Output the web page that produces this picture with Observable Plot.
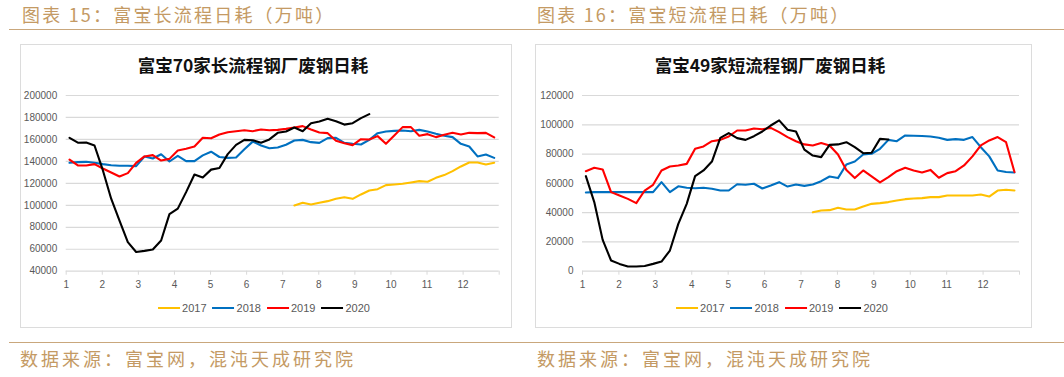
<!DOCTYPE html>
<html><head><meta charset="utf-8">
<script src="https://cdn.jsdelivr.net/npm/d3@7"></script>
<script src="https://cdn.jsdelivr.net/npm/@observablehq/plot@0.6"></script>
<style>
html,body{margin:0;padding:0;background:#fff}
body{width:1064px;height:377px;position:relative;overflow:hidden;font-family:"Noto Sans CJK SC",sans-serif}
.hdr{position:absolute;top:2px;font-size:18px;line-height:24px;color:#c49a64;letter-spacing:2.2px;white-space:nowrap}
.src{position:absolute;top:346px;font-size:18px;line-height:24px;color:#c49a64;letter-spacing:3px;white-space:nowrap}
.hline{position:absolute;left:9px;right:0;height:0;border-top:1.5px solid #c9a77c}
.box{position:absolute;top:44px;height:282px;border:1px solid #dcdcdc;background:#fff}
.ttl{position:absolute;top:53px;font-size:17.5px;font-weight:700;line-height:24px;color:#111;white-space:nowrap;transform:translateX(-50%)}
.plot{position:absolute;top:80px}
.leg{position:absolute;top:302px;display:flex;align-items:center;font-family:"Liberation Sans",sans-serif;font-size:11px;color:#595959;transform:translateX(-50%);white-space:nowrap}
.leg .it{display:flex;align-items:center;margin-right:6px}
.leg .sw{display:inline-block;width:22px;height:2px;margin-right:2px}
</style></head>
<body>
<div class="hdr" style="left:22px">图表 15：富宝长流程日耗（万吨）</div>
<div class="hdr" style="left:537px">图表 16：富宝短流程日耗（万吨）</div>
<div class="hline" style="top:29px"></div>
<div class="box" style="left:20px;width:490px"></div>
<div class="box" style="left:535px;width:495px"></div>
<div class="ttl" style="left:253px">富宝70家长流程钢厂废钢日耗</div>
<div class="ttl" style="left:770px">富宝49家短流程钢厂废钢日耗</div>
<div id="p1" class="plot" style="left:20px"></div>
<div id="p2" class="plot" style="left:535px"></div>
<div id="l1" class="leg" style="left:267px"></div>
<div id="l2" class="leg" style="left:785px"></div>
<div class="hline" style="top:342px"></div>
<div class="src" style="left:20px">数据来源：富宝网，混沌天成研究院</div>
<div class="src" style="left:537px">数据来源：富宝网，混沌天成研究院</div>
<script>
// ---- data (weekly values; index = week of year, 0-based) ----
const years = ["2017", "2018", "2019", "2020"];
const colors = ["#FFC000", "#0070C0", "#FF0000", "#000000"];
const monthTicks = [1,2,3,4,5,6,7,8,9,10,11,12,13];

// Panel 1: 富宝70家长流程钢厂废钢日耗
const long2017Start = 27;
const long2017 = [99800,102300,100800,102300,103800,105900,107400,105900,109900,113500,114700,118400,119000,119600,120800,122000,121400,125000,127500,131100,135400,139000,139000,137200,138700];
const long2018 = [138700,139300,139600,138700,137500,136500,136000,136000,135700,144500,142600,146500,139900,145000,140200,140200,145500,148800,144000,143200,143500,151000,158000,154500,152000,152700,155100,159000,159600,157500,156900,161200,161500,156900,156000,155400,159600,165700,167200,167800,168100,167500,168700,167200,165100,163300,162100,156000,153600,144500,146300,143200];
const long2019 = [141700,136300,136300,137500,133500,129900,126300,129300,138700,144500,145700,140800,142300,150000,151500,153500,161500,161000,164500,166600,167500,168400,167500,169000,168400,168700,169600,170900,172100,169000,166300,165700,158700,156600,154800,160200,159900,163000,156000,163600,171200,171200,163300,164800,162100,164200,166000,164500,166000,165700,166000,161800];
const long2020 = [161500,157000,157200,154500,132000,106000,86000,66500,57500,58500,59800,68000,92000,97000,112000,128000,125300,132500,134000,146600,155000,159600,159300,157000,160000,166000,167200,170800,167500,174800,176300,178800,176500,173500,174800,179400,183000];
const longTicks = [40000,60000,80000,100000,120000,140000,160000,180000,200000];

// Panel 2: 富宝49家短流程钢厂废钢日耗
const short2017Start = 27;
const short2017 = [40300,41500,41700,43300,42100,42100,44200,46000,46500,47200,48300,49200,49700,49900,50600,50600,51700,51700,51700,51700,52400,51000,55100,55600,55100];
const short2018 = [53800,54000,54000,54000,54000,54000,54000,54000,54000,60800,54000,58000,57000,56700,57000,56300,55100,55100,59400,59000,59700,56500,58500,60800,57800,59200,58300,59200,61500,64700,63600,72900,74900,79700,80200,83600,89700,88800,92700,92500,92300,92000,91100,89700,90200,89700,91600,84700,78400,68800,67700,67400];
const short2019 = [68300,70600,69500,54000,51700,49400,46500,55100,59000,68800,71500,72200,73300,83600,85200,88800,89700,92000,96100,96100,97500,97000,97900,95000,91600,88800,86600,85900,87500,85900,79700,69200,63600,68800,64700,60600,64200,68300,70600,68800,67400,69200,63800,67000,68300,72200,78400,85900,89300,91600,88100,67700];
const short2020 = [64900,47200,21400,7300,5000,3200,3200,3600,5000,6600,14100,32300,46000,64900,68800,74900,91100,94300,90900,89700,92200,95400,99500,103000,96600,95400,83000,79000,77900,86300,86600,88100,84700,80600,80900,90400,90000];
const shortTicks = [0,20000,40000,60000,80000,100000,120000];

// ---- helpers ----
const weekPos = w => 1 + (w + 0.4) * 12 / 52;
function rows(year, start, vals) { return vals.map((v, i) => ({year, x: weekPos(start + i), v})); }

function panel(el, series, yTicks, opts) {
  const data = series.flatMap(s => rows(s.year, s.start, s.vals));
  const ymin = yTicks[0], ymax = yTicks[yTicks.length - 1];
  const chart = Plot.plot({
    width: opts.width, height: 220,
    marginLeft: opts.ml, marginRight: opts.mr, marginTop: 15, marginBottom: 29.3,
    style: {background: "transparent", fontFamily: "Liberation Sans, sans-serif", fontSize: "10px", overflow: "visible"},
    x: {type: "linear", domain: [1, 13], axis: null},
    y: {domain: [ymin, ymax], axis: null},
    color: {domain: years, range: colors},
    marks: [
      Plot.ruleY(yTicks, {stroke: "#d9d9d9", strokeWidth: 1.2}),
      Plot.axisY({ticks: yTicks, tickSize: 0, tickPadding: 9, tickFormat: d => String(d), color: "#595959", label: null}),
      Plot.axisX({ticks: monthTicks, tickSize: 4, tickFormat: () => "", color: "#d9d9d9", label: null}),
      Plot.axisX({ticks: monthTicks, tickSize: 0, tickPadding: 10, tickFormat: d => d <= 12 ? String(d) : "", color: "#595959", label: null}),
      Plot.line(data, {x: "x", y: "v", z: "year", stroke: "year", strokeWidth: 2.1, curve: "linear"})
    ]
  });
  document.getElementById(el).appendChild(chart);
}

panel("p1", [
  {year: "2017", start: long2017Start, vals: long2017},
  {year: "2018", start: 0, vals: long2018},
  {year: "2019", start: 0, vals: long2019},
  {year: "2020", start: 0, vals: long2020}
], longTicks, {width: 491, ml: 45.7, mr: 12.3});

panel("p2", [
  {year: "2017", start: short2017Start, vals: short2017},
  {year: "2018", start: 0, vals: short2018},
  {year: "2019", start: 0, vals: short2019},
  {year: "2020", start: 0, vals: short2020}
], shortTicks, {width: 496, ml: 47, mr: 12});

for (const id of ["l1", "l2"]) {
  const leg = document.getElementById(id);
  years.forEach((y, i) => {
    const it = document.createElement("span");
    it.className = "it";
    it.innerHTML = `<span class="sw" style="background:${colors[i]}"></span><span>${y}</span>`;
    leg.appendChild(it);
  });
}
</script>
</body></html>
